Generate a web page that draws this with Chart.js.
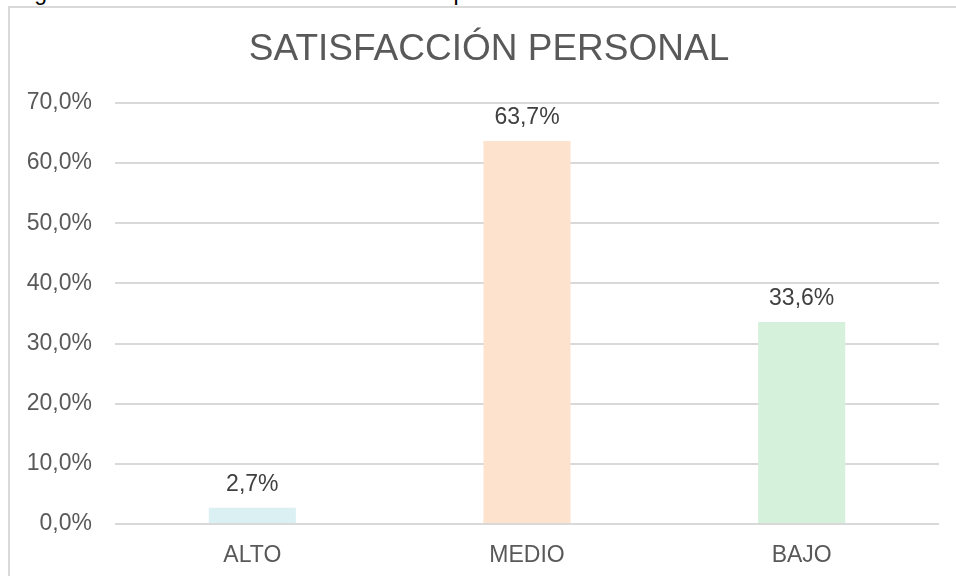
<!DOCTYPE html>
<html>
<head>
<meta charset="utf-8">
<script src="https://cdn.jsdelivr.net/npm/chart.js@4"></script>
<style>
  html, body { margin: 0; padding: 0; background: #fff; overflow: hidden; }
  body { width: 956px; height: 576px; position: relative; font-family: "Liberation Sans", Arial, sans-serif; }
  .caption { position: absolute; left: 15px; top: -19px; font-size: 23px; line-height: 23px; color: #000; white-space: nowrap; }
  .frame { position: absolute; left: 8px; top: 6px; width: 960px; height: 590px; border: 2px solid #d9d9d9; box-sizing: border-box; }
  #wrap { position: absolute; left: 0; top: 0; width: 956px; height: 576px; }
</style>
</head>
<body>
<div class="caption">Figura 10. Distribución Factor Satisfacción personal</div>
<div class="frame"></div>
<div id="wrap"><canvas id="chart"></canvas></div>
<script>
document.addEventListener('DOMContentLoaded', () => {
    // categorías y valores (%)
    const categories = ['ALTO', 'MEDIO', 'BAJO'];
    const values = [2.7, 63.7, 33.6];
    const barColors = ['#daf0f3', '#fde3cd', '#d5f0db'];
    const yTicks = [0, 10, 20, 30, 40, 50, 60, 70];
    const chartTitle = 'SATISFACCIÓN PERSONAL';

    const fmt = (v, d) => v.toFixed(d).replace('.', ',') + '%';
    const FONT = '"Liberation Sans", Arial, sans-serif';

    // título centrado sobre el marco del gráfico
    const titleText = {
        id: 'titleText',
        afterDraw(chart) {
            const ctx = chart.ctx;
            ctx.save();
            ctx.font = '37px ' + FONT;
            ctx.fillStyle = '#595959';
            ctx.textAlign = 'center';
            ctx.textBaseline = 'middle';
            ctx.fillText(chartTitle, 489, 50);
            ctx.restore();
        }
    };

    // etiquetas de valor encima de cada barra
    const valueLabels = {
        id: 'valueLabels',
        afterDatasetsDraw(chart) {
            const ctx = chart.ctx;
            const meta = chart.getDatasetMeta(0);
            ctx.save();
            ctx.font = '23px ' + FONT;
            ctx.fillStyle = '#404040';
            ctx.textAlign = 'center';
            ctx.textBaseline = 'middle';
            meta.data.forEach((bar, i) => {
                ctx.fillText(fmt(values[i], 1), bar.x, bar.y - 23);
            });
            ctx.restore();
        }
    };

    new Chart(document.getElementById('chart').getContext('2d'), {
        type: 'bar',
        data: {
            labels: categories,
            datasets: [{
                data: values,
                backgroundColor: barColors,
                borderWidth: 0,
                barPercentage: 0.317,
                categoryPercentage: 1
            }]
        },
        options: {
            responsive: true,
            maintainAspectRatio: false,
            animation: false,
            layout: { padding: { left: 0, right: 17, top: 103, bottom: 0 } },
            plugins: {
                legend: { display: false },
                tooltip: { enabled: false },
                title: { display: false }
            },
            scales: {
                x: {
                    grid: { display: false },
                    border: { display: false },
                    ticks: {
                        color: '#595959',
                        padding: 10,
                        font: { family: FONT, size: 23 }
                    },
                    afterFit: (s) => { s.height = 52; }
                },
                y: {
                    min: 0,
                    max: 70,
                    afterBuildTicks: (s) => { s.ticks = yTicks.map(v => ({ value: v })); },
                    grid: { color: '#d9d9d9', lineWidth: 2, drawTicks: false },
                    border: { display: false },
                    ticks: {
                        color: '#595959',
                        padding: 23,
                        font: { family: FONT, size: 23 },
                        callback: (v) => fmt(v, 1)
                    },
                    afterFit: (s) => { s.width = 115; }
                }
            }
        },
        plugins: [valueLabels, titleText]
    });
});
</script>
</body>
</html>
